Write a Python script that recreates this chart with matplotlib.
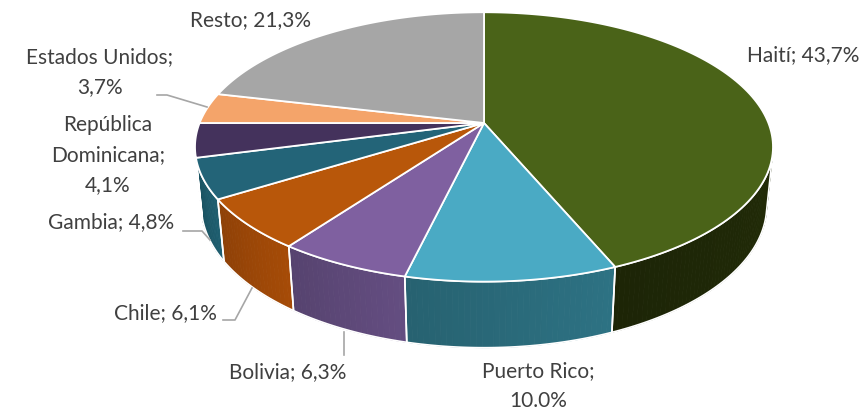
import numpy as np
import matplotlib
matplotlib.use("Agg")
import matplotlib.pyplot as plt
from matplotlib.patches import Polygon
from matplotlib.colors import to_rgb

# ---- data ----
labels = ["Haití", "Puerto Rico", "Bolivia", "Chile", "Gambia",
          "República Dominicana", "Estados Unidos", "Resto"]
values = [43.7, 10.0, 6.3, 6.1, 4.8, 4.1, 3.7, 21.3]
value_text = ["43,7%", "10.0%", "6,3%", "6,1%", "4,8%", "4,1%", "3,7%", "21,3%"]
label_text = ["Haití; 43,7%", "Puerto Rico;\n10.0%", "Bolivia; 6,3%",
              "Chile; 6,1%", "Gambia; 4,8%", "República\nDominicana;\n4,1%",
              "Estados Unidos;\n3,7%", "Resto; 21,3%"]
top_colors = ["#4a6318", "#4aaac4", "#7f60a0", "#b8570a", "#236478",
              "#44325c", "#f4a46a", "#a6a6a6"]
side_colors = ["#1f2807", "#2a6a7a", "#5d4878", "#9a4607", "#1c5868",
               "#33254a", "#c98550", "#808080"]

# ---- 3D projection parameters (pixel space) ----
CX, CY = 484, 123
R = 1.0
D = 5.0
alpha = np.radians(27.3)
F = 1422.0
H = 0.234


def proj(theta, z):
    u = R * np.sin(theta)
    v = R * np.cos(theta)
    d = D + v * np.cos(alpha) - z * np.sin(alpha)
    sx = F * u / d
    sy = F * (v * np.sin(alpha) + z * np.cos(alpha)) / d
    return CX + sx, CY - sy


def centre(z):
    d = D - z * np.sin(alpha)
    return CX, CY - F * (z * np.cos(alpha)) / d


fig = plt.figure(figsize=(8.64, 4.11), dpi=100)
ax = fig.add_axes([0, 0, 1, 1])
ax.set_xlim(0, 864)
ax.set_ylim(411, 0)
ax.axis("off")

vals = np.array(values)
bounds = np.concatenate([[0], np.cumsum(vals) / vals.sum() * 2 * np.pi])

# visible side range
cmin = -R / (D * np.cos(alpha))
th_vis_lo = np.arccos(cmin)
th_vis_hi = 2 * np.pi - th_vis_lo

# sides
for i in range(len(values)):
    a0 = max(bounds[i], th_vis_lo)
    a1 = min(bounds[i + 1], th_vis_hi)
    if a1 <= a0:
        continue
    base = np.array(to_rgb(side_colors[i]))
    n = max(2, int(np.degrees(a1 - a0)))
    ts = np.linspace(a0, a1, n + 1)
    for k in range(n):
        t0, t1 = ts[k], ts[k + 1]
        f = 1.08 - 0.16 * (k + 0.5) / n
        col = np.clip(base * f, 0, 1)
        x0t, y0t = proj(t0, 0)
        x1t, y1t = proj(t1, 0)
        x0b, y0b = proj(t0, -H)
        x1b, y1b = proj(t1, -H)
        ax.add_patch(Polygon([(x0t, y0t), (x1t, y1t), (x1b, y1b), (x0b, y0b)],
                             closed=True, facecolor=col, edgecolor=col,
                             linewidth=0.6, zorder=1))
    ts = np.linspace(a0, a1, 60)
    xt, yt = proj(ts, 0)
    xb, yb = proj(ts[::-1], -H)
    ax.add_patch(Polygon(np.column_stack([np.r_[xt, xb], np.r_[yt, yb]]),
                         closed=True, facecolor="none", edgecolor="white",
                         linewidth=1.2, zorder=2))

# tops
for i in range(len(values)):
    ts = np.linspace(bounds[i], bounds[i + 1], 120)
    xs, ys = proj(ts, 0)
    cx, cy = centre(0)
    poly = np.column_stack([np.r_[cx, xs], np.r_[cy, ys]])
    ax.add_patch(Polygon(poly, closed=True, facecolor=top_colors[i],
                         edgecolor="white", linewidth=1.3, zorder=3,
                         joinstyle="round"))

# labels
txt_kw = dict(fontsize=15, color="#404040", family=["Lato", "DejaVu Sans"],
              ha="center", va="center", linespacing=1.6, zorder=5)
label_pos = [(803, 55), (538, 386), (288, 372), (165, 313), (111, 222),
             (108, 155), (100, 72), (250, 20)]
for (x, y), t in zip(label_pos, label_text):
    ax.text(x, y, t, **txt_kw)

# leader lines
lc = dict(color="#a6a6a6", linewidth=1.2, zorder=4)
ax.plot([157, 167, 207], [95, 95, 107], **lc)
ax.plot([183, 202, 210], [231, 231, 240], **lc)
ax.plot([223, 235, 252], [320, 320, 288], **lc)
ax.plot([344, 344], [332, 355], **lc)

fig.savefig("out.png", dpi=100)
